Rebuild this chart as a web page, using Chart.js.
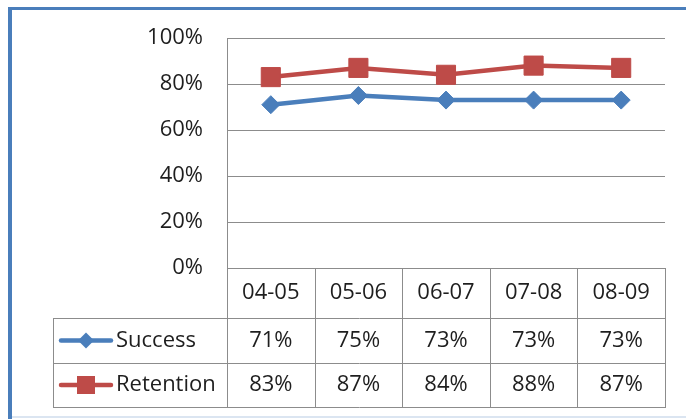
<!DOCTYPE html>
<html>
<head>
<meta charset="utf-8">
<script src="https://cdn.jsdelivr.net/npm/chart.js@4"></script>
<style>
  body { margin: 0; background: #fff; }
  #wrap { position: relative; width: 686px; height: 419px; }
</style>
</head>
<body>
<div id="wrap"><canvas id="chart" width="686" height="419"></canvas></div>
<script>
const years = ['04-05', '05-06', '06-07', '07-08', '08-09'];
const success = [71, 75, 73, 73, 73];
const retention = [83, 87, 84, 88, 87];
const yTicks = [0, 20, 40, 60, 80, 100];

const BLUE = '#4A7EBB';
const RED = '#BE4B48';
const GRID = '#8C8C8C';
const TEXT = '#1E1E1E';
const FONT = '22px "Open Sans"';

// draws the data table under the plot plus the blue frame
const tablePlugin = {
  id: 'dataTable',
  afterDraw(chart) {
    const ctx = chart.ctx;
    const x = chart.scales.x;
    const area = chart.chartArea;
    const step = x.getPixelForValue(1) - x.getPixelForValue(0);
    const edges = [];
    for (let i = 0; i <= years.length; i++) {
      edges.push(x.getPixelForValue(i) - step / 2);
    }
    const tableLeft = 53;
    const rows = [area.bottom, area.bottom + 50, area.bottom + 95, area.bottom + 139];

    ctx.save();
    ctx.strokeStyle = GRID;
    ctx.lineWidth = 1;
    ctx.beginPath();
    edges.forEach(e => {
      const px = Math.round(e) + 0.5;
      ctx.moveTo(px, rows[0]);
      ctx.lineTo(px, rows[3]);
    });
    for (let r = 1; r < rows.length; r++) {
      const py = Math.round(rows[r]) + 0.5;
      ctx.moveTo(tableLeft, py);
      ctx.lineTo(Math.round(edges[edges.length - 1]) + 1, py);
    }
    ctx.moveTo(tableLeft + 0.5, rows[1]);
    ctx.lineTo(tableLeft + 0.5, rows[3]);
    ctx.stroke();

    ctx.fillStyle = TEXT;
    ctx.font = FONT;
    ctx.textAlign = 'center';
    ctx.textBaseline = 'middle';
    years.forEach((y, i) => {
      const cx = x.getPixelForValue(i);
      ctx.fillText(y, cx, (rows[0] + rows[1]) / 2);
      ctx.fillText(success[i] + '%', cx, (rows[1] + rows[2]) / 2);
      ctx.fillText(retention[i] + '%', cx, (rows[2] + rows[3]) / 2);
    });

    // legend keys
    const series = [
      { name: 'Success', color: BLUE, shape: 'diamond', cy: (rows[1] + rows[2]) / 2 },
      { name: 'Retention', color: RED, shape: 'square', cy: (rows[2] + rows[3]) / 2 }
    ];
    series.forEach(s => {
      ctx.strokeStyle = s.color;
      ctx.fillStyle = s.color;
      ctx.lineWidth = 4.5;
      ctx.lineCap = 'round';
      ctx.beginPath();
      ctx.moveTo(61, s.cy);
      ctx.lineTo(111, s.cy);
      ctx.stroke();
      const mx = 86;
      ctx.beginPath();
      if (s.shape === 'diamond') {
        ctx.moveTo(mx - 8, s.cy);
        ctx.lineTo(mx, s.cy - 8);
        ctx.lineTo(mx + 8, s.cy);
        ctx.lineTo(mx, s.cy + 8);
        ctx.closePath();
      } else {
        ctx.rect(mx - 9, s.cy - 9, 18, 18);
      }
      ctx.fill();
      ctx.fillStyle = TEXT;
      ctx.textAlign = 'left';
      ctx.fillText(s.name, 116, s.cy);
    });

    // frame
    ctx.fillStyle = BLUE;
    ctx.fillRect(8, 7, 678, 3);
    ctx.fillRect(8, 7, 4, 412);
    ctx.fillStyle = '#DBE5F1';
    ctx.fillRect(12, 416, 674, 2);
    ctx.restore();
  }
};

new Chart(document.getElementById('chart'), {
  type: 'line',
  data: {
    labels: years,
    datasets: [
      {
        label: 'Success',
        data: success,
        borderColor: BLUE,
        backgroundColor: BLUE,
        borderWidth: 4.5,
        pointStyle: 'rectRot',
        pointRadius: 9,
        pointBorderWidth: 1,
        tension: 0
      },
      {
        label: 'Retention',
        data: retention,
        borderColor: RED,
        backgroundColor: RED,
        borderWidth: 4.5,
        pointStyle: 'rect',
        pointRadius: 13.5,
        pointBorderWidth: 1,
        tension: 0
      }
    ]
  },
  options: {
    responsive: false,
    animation: false,
    events: [],
    layout: { padding: { top: 38, right: 21, bottom: 151, left: 0 } },
    plugins: { legend: { display: false }, tooltip: { enabled: false } },
    scales: {
      x: {
        display: false,
        offset: true
      },
      y: {
        min: 0,
        max: 100,
        afterBuildTicks: scale => { scale.ticks = yTicks.map(v => ({ value: v })); },
        afterFit: scale => { scale.width = 227; },
        ticks: {
          callback: v => v + '%',
          color: TEXT,
          font: { family: 'Open Sans', size: 22 },
          padding: 24
        },
        grid: { color: GRID, drawTicks: false, tickLength: 0 },
        border: { display: true, color: GRID }
      }
    }
  },
  plugins: [tablePlugin]
});
</script>
</body>
</html>
